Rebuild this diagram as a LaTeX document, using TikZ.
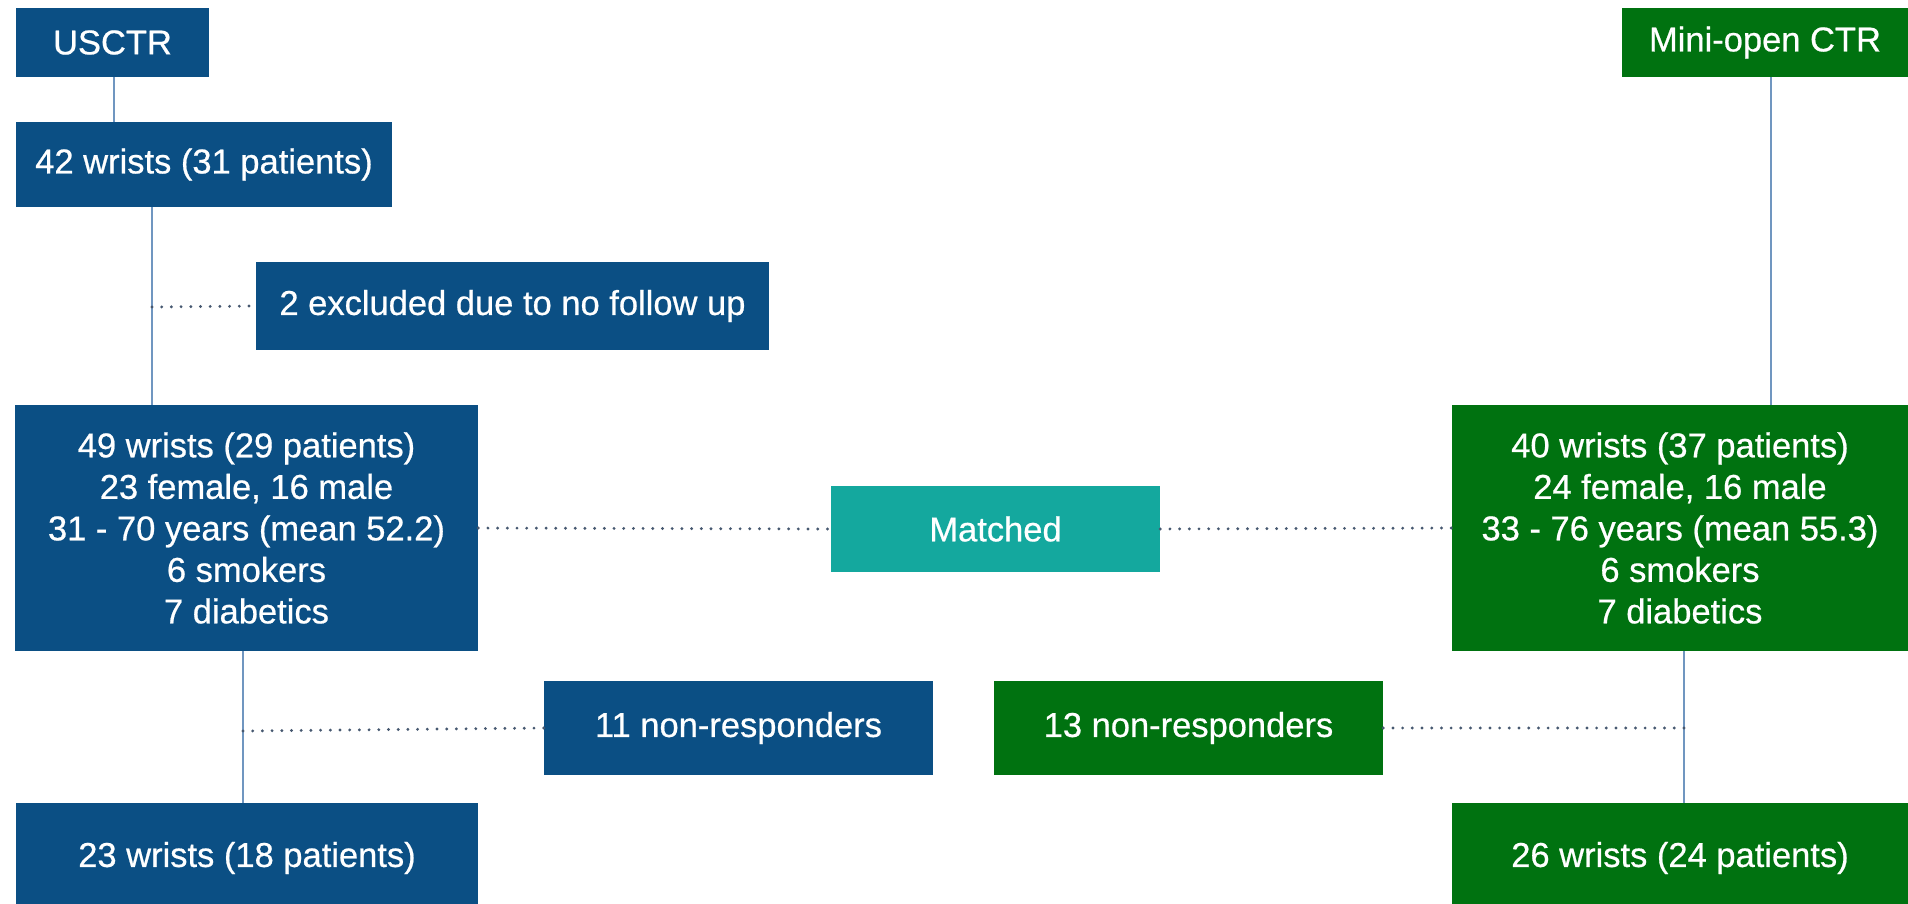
\documentclass[tikz,border=0pt]{standalone}
\usepackage{fontspec}
\setmainfont{Liberation Sans}
\newfontfamily\boxfont{Liberation Sans}[FakeBold=0.6]
\definecolor{uscblue}{RGB}{11,79,132}
\definecolor{minigreen}{RGB}{0,114,16}
\definecolor{matchteal}{RGB}{20,168,158}
\definecolor{linkblue}{RGB}{112,150,192}
\definecolor{dotgray}{RGB}{70,88,112}
\begin{document}
\begin{tikzpicture}[x=1pt,y=-1pt,
  box/.style={rectangle, inner sep=0pt, text=white, align=center,
    font=\boxfont\fontsize{34.5}{41.5}\selectfont},
  bluebox/.style={box, fill=uscblue},
  greenbox/.style={box, fill=minigreen},
  tealbox/.style={box, fill=matchteal},
  link/.style={draw=linkblue, line width=2pt},
  dots/.style={draw=dotgray, line width=3.2pt, line cap=round,
    dash pattern=on 0pt off 9.7pt}]
\fill[white] (0,0) rectangle (1908,903);
\useasboundingbox (0,0) rectangle (1908,903);

% USCTR arm
\node[bluebox, minimum width=193pt, minimum height=69pt] (usctr) at (112.5,42.5) {USCTR};
\node[bluebox, minimum width=376pt, minimum height=85pt] (w42) at (204,164.5) {42 wrists (31 patients)};
\node[bluebox, minimum width=513pt, minimum height=88pt] (excl) at (512.5,306) {2 excluded due to no follow up};
\node[bluebox, minimum width=463pt, minimum height=246pt] (w49) at (246.5,528)
  {49 wrists (29 patients)\\23 female, 16 male\\31 - 70 years (mean 52.2)\\6 smokers\\7 diabetics};
\node[bluebox, minimum width=389pt, minimum height=94pt] (non11) at (738.5,728) {11 non-responders};
\node[bluebox, minimum width=462pt, minimum height=110pt] (w23) at (247,858) {23 wrists (18 patients)};

% matching
\node[tealbox, minimum width=329pt, minimum height=86pt] (matched) at (995.5,529) {Matched};

% Mini-open CTR arm
\node[greenbox, minimum width=286pt, minimum height=69pt] (mini) at (1765,42.5) {Mini-open CTR};
\node[greenbox, minimum width=456pt, minimum height=246pt] (w40) at (1680,528)
  {40 wrists (37 patients)\\24 female, 16 male\\33 - 76 years (mean 55.3)\\6 smokers\\7 diabetics};
\node[greenbox, minimum width=389pt, minimum height=94pt] (non13) at (1188.5,728) {13 non-responders};
\node[greenbox, minimum width=456pt, minimum height=110pt] (w26) at (1680,858) {26 wrists (24 patients)};

% branch points on the trunks
\coordinate (ua) at (114,0);
\coordinate (ub) at (152,307);
\coordinate (uc) at (243,731);
\coordinate (ma) at (1771,0);
\coordinate (mc) at (1684,728);

% solid trunks
\draw[link] (usctr.south -| ua) -- (w42.north -| ua);
\draw[link] (w42.south -| ub) -- (w49.north -| ub);
\draw[link] (w49.south -| uc) -- (w23.north -| uc);
\draw[link] (mini.south -| ma) -- (w40.north -| ma);
\draw[link] (w40.south -| mc) -- (w26.north -| mc);

% dotted side links
\draw[dots] (ub) -- (excl.west);
\draw[dots] (uc) -- (non11.west);
\draw[dots] (non13.east) -- (mc);
\draw[dots] (w49.east) -- (matched.west);
\draw[dots] (matched.east) -- (w40.west);
\end{tikzpicture}
\end{document}
